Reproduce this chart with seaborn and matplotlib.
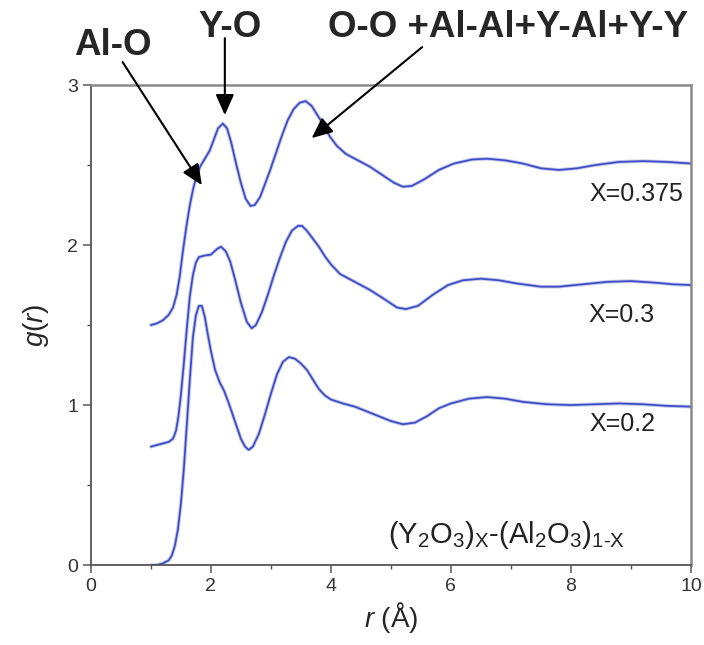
import seaborn as sns
import matplotlib.pyplot as plt
from matplotlib.ticker import MultipleLocator

# g(r) curves
r_02 = [1.0, 1.1, 1.2, 1.3, 1.35, 1.4, 1.45, 1.5, 1.55, 1.6, 1.65, 1.7, 1.75, 1.8, 1.85,
        1.9, 1.95, 2.0, 2.07, 2.15, 2.22, 2.3, 2.4, 2.5, 2.57, 2.63, 2.7, 2.8, 2.9, 3.0,
        3.1, 3.2, 3.3, 3.4, 3.5, 3.6, 3.7, 3.8, 3.9, 4.0, 4.2, 4.4, 4.6, 4.8, 5.0, 5.2,
        5.4, 5.6, 5.8, 6.0, 6.3, 6.6, 6.9, 7.2, 7.6, 8.0, 8.4, 8.8, 9.2, 9.6, 10.0]
g_02 = [0.0, 0.0, 0.01, 0.03, 0.06, 0.12, 0.22, 0.38, 0.6, 0.88, 1.16, 1.42, 1.56, 1.62, 1.62,
        1.55, 1.44, 1.34, 1.22, 1.14, 1.09, 1.01, 0.9, 0.79, 0.74, 0.72, 0.74, 0.82, 0.94, 1.07,
        1.19, 1.27, 1.30, 1.29, 1.26, 1.22, 1.16, 1.10, 1.06, 1.035, 1.01, 0.99, 0.96, 0.93, 0.9, 0.88,
        0.89, 0.93, 0.98, 1.01, 1.04, 1.05, 1.04, 1.02, 1.005, 1.0, 1.005, 1.01, 1.005, 0.995, 0.99]

r_03 = [1.0, 1.1, 1.2, 1.3, 1.37, 1.42, 1.46, 1.5, 1.55, 1.6, 1.65, 1.7, 1.75, 1.8, 1.9,
        2.0, 2.1, 2.17, 2.25, 2.32, 2.4, 2.5, 2.6, 2.68, 2.75, 2.85, 2.95, 3.05, 3.15, 3.25,
        3.35, 3.45, 3.52, 3.6, 3.7, 3.8, 3.9, 4.0, 4.15, 4.4, 4.65, 4.9, 5.1, 5.25, 5.45,
        5.7, 5.95, 6.2, 6.5, 6.8, 7.1, 7.5, 7.8, 8.2, 8.6, 9.0, 9.4, 9.7, 10.0]
g_03 = [0.74, 0.75, 0.76, 0.77, 0.79, 0.84, 0.93, 1.06, 1.26, 1.48, 1.68, 1.81, 1.89, 1.925, 1.935,
        1.94, 1.975, 1.99, 1.96, 1.9, 1.79, 1.64, 1.52, 1.48, 1.5, 1.58, 1.69, 1.81, 1.92, 2.02,
        2.09, 2.12, 2.12, 2.09, 2.04, 1.99, 1.93, 1.88, 1.82, 1.77, 1.72, 1.66, 1.61, 1.6, 1.62,
        1.69, 1.75, 1.78, 1.79, 1.78, 1.76, 1.74, 1.74, 1.755, 1.77, 1.775, 1.765, 1.755, 1.75]

r_0375 = [1.0, 1.1, 1.2, 1.3, 1.37, 1.43, 1.48, 1.53, 1.59, 1.65, 1.71, 1.77, 1.82, 1.9, 1.98,
          2.05, 2.12, 2.2, 2.27, 2.34, 2.42, 2.5, 2.58, 2.66, 2.73, 2.82, 2.9, 2.98, 3.08, 3.18,
          3.28, 3.38, 3.48, 3.58, 3.68, 3.78, 3.88, 3.98, 4.1, 4.25, 4.45, 4.65, 4.85, 5.05, 5.2,
          5.35, 5.55, 5.8, 6.05, 6.35, 6.6, 6.9, 7.2, 7.5, 7.8, 8.1, 8.4, 8.8, 9.2, 9.6, 10.0]
g_0375 = [1.5, 1.51, 1.53, 1.565, 1.61, 1.69, 1.8, 1.95, 2.11, 2.25, 2.36, 2.44, 2.49, 2.54, 2.59,
          2.66, 2.73, 2.76, 2.73, 2.64, 2.51, 2.39, 2.29, 2.245, 2.25, 2.3, 2.38, 2.46, 2.57, 2.68,
          2.78, 2.85, 2.89, 2.9, 2.87, 2.81, 2.75, 2.68, 2.62, 2.57, 2.53, 2.49, 2.44, 2.39, 2.365,
          2.37, 2.41, 2.47, 2.51, 2.535, 2.54, 2.53, 2.51, 2.48, 2.47, 2.48, 2.5, 2.52, 2.525, 2.52, 2.51]

series_labels = ['X=0.2', 'X=0.3', 'X=0.375']

sns.set_theme(style='ticks')
plt.rcParams['font.family'] = ['Liberation Sans', 'DejaVu Sans']
plt.rcParams['mathtext.fontset'] = 'custom'
plt.rcParams['mathtext.rm'] = 'Liberation Sans'
plt.rcParams['mathtext.it'] = 'Liberation Sans:italic'

fig = plt.figure(figsize=(7.04, 6.45), dpi=100)
ax = fig.add_axes([0.129, 0.124, 0.8525, 0.744])

blue = '#3a4cc9'
for r, g in [(r_02, g_02), (r_03, g_03), (r_0375, g_0375)]:
    # soft halo under the line like the original render
    sns.lineplot(x=r, y=g, ax=ax, color='#c3c7e6', lw=2.6, sort=False,
                 solid_joinstyle='round', solid_capstyle='round')
    sns.lineplot(x=r, y=g, ax=ax, color=blue, lw=1.25, sort=False,
                 solid_joinstyle='round', solid_capstyle='round')

ax.set_xlim(0, 10)
ax.set_ylim(0, 3)
ax.xaxis.set_major_locator(MultipleLocator(2))
ax.xaxis.set_minor_locator(MultipleLocator(1))
ax.yaxis.set_major_locator(MultipleLocator(1))
ax.yaxis.set_minor_locator(MultipleLocator(0.5))
ax.tick_params(which='major', direction='out', length=6, width=1.1, color='#555555',
               labelsize=14, labelcolor='#333333', pad=3)
ax.tick_params(which='minor', direction='out', length=3, width=1.0, color='#555555')
ax.tick_params(top=False, right=False, which='both')

for side in ['left', 'bottom']:
    ax.spines[side].set_color('#555555')
    ax.spines[side].set_linewidth(1.3)
for side in ['top', 'right']:
    ax.spines[side].set_color('#8a8a8a')
    ax.spines[side].set_linewidth(1.8)

ax.set_xlabel('$\\it{r}$ (Å)', fontsize=20, labelpad=4)
ax.set_ylabel('$\\it{g}$($\\it{r}$)', fontsize=20, labelpad=12)

# series labels
ax.text(9.87, 2.32, series_labels[2], ha='right', va='center', fontsize=18, color='#222222')
ax.text(8.85, 1.5625, series_labels[1], ha='center', va='center', fontsize=18, color='#222222')
ax.text(8.85, 0.88, series_labels[0], ha='center', va='center', fontsize=18, color='#222222')

ax.text(6.93, 0.1375, '(Y$_2$O$_3$)$_\\mathrm{X}$-(Al$_2$O$_3$)$_\\text{1-X}$',
        ha='center', va='baseline', fontsize=21, color='#222222')

# peak annotations
arrow = dict(arrowstyle='-|>,head_length=0.9,head_width=0.4', color='black',
             lw=1.5, mutation_scale=14, shrinkA=0, shrinkB=0)
ax.text(0.37, 3.25, 'Al-O', ha='center', va='center', fontsize=26.5, fontweight='bold',
        clip_on=False)
ax.annotate('', xy=(1.85, 2.375), xytext=(0.53, 3.144), arrowprops=arrow,
            annotation_clip=False)
ax.text(2.32, 3.3625, 'Y-O', ha='center', va='center', fontsize=26.5, fontweight='bold',
        clip_on=False)
ax.annotate('', xy=(2.233, 2.8125), xytext=(2.233, 3.294), arrowprops=arrow,
            annotation_clip=False)
ax.text(6.95, 3.3625, 'O-O +Al-Al+Y-Al+Y-Y', ha='center', va='center', fontsize=26.5,
        fontweight='bold', clip_on=False)
ax.annotate('', xy=(3.68, 2.669), xytext=(5.52, 3.2375), arrowprops=arrow,
            annotation_clip=False)

plt.savefig('out.png', dpi=100)
